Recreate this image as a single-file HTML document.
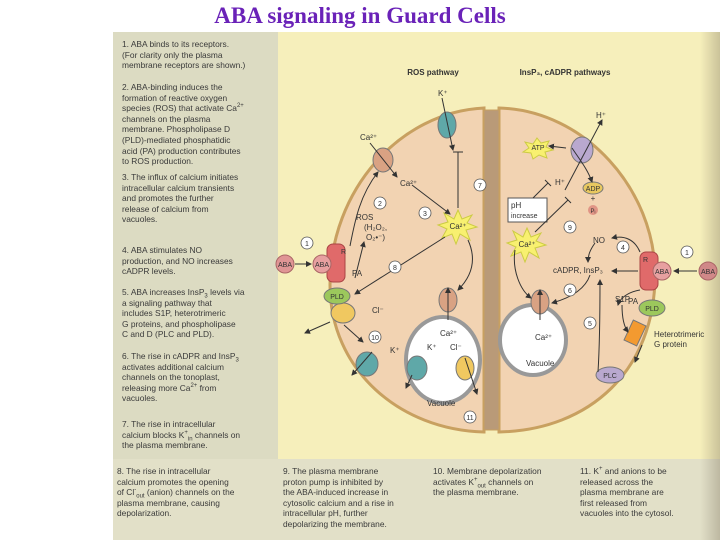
<!DOCTYPE html>
<html><head><meta charset="utf-8"><style>
body{margin:0;width:720px;height:540px;background:#fff;position:relative;overflow:hidden;font-family:"Liberation Sans",sans-serif}
#title{position:absolute;left:0;width:720px;top:3px;text-align:center;font:bold 23px "Liberation Serif",serif;color:#6a22b8}
.p{position:absolute;font-size:8.4px;line-height:10.6px;color:#3a3a3a;white-space:nowrap}
.p sup,.p sub{font-size:6px;line-height:0}
</style></head><body>
<div id="title">ABA signaling in Guard Cells</div>
<div style="position:absolute;left:113px;top:32px;width:607px;height:508px;background:#f6efbb"></div>
<div style="position:absolute;left:113px;top:32px;width:165px;height:427px;background:#dcdbc2"></div>
<div style="position:absolute;left:113px;top:459px;width:607px;height:81px;background:#e2e0c8"></div>
<div style="position:absolute;left:700px;top:32px;width:20px;height:508px;background:linear-gradient(90deg,rgba(0,0,0,0),rgba(120,110,90,.35))"></div>
<div class="p" style="left:122px;top:39px">1. ABA binds to its receptors.<br>(For clarity only the plasma<br>membrane receptors are shown.)</div>
<div class="p" style="left:122px;top:82px">2. ABA-binding induces the<br>formation of reactive oxygen<br>species (ROS) that activate Ca<sup>2+</sup><br>channels on the plasma<br>membrane. Phospholipase D<br>(PLD)-mediated phosphatidic<br>acid (PA) production contributes<br>to ROS production.</div>
<div class="p" style="left:122px;top:172px">3. The influx of calcium initiates<br>intracellular calcium transients<br>and promotes the further<br>release of calcium from<br>vacuoles.</div>
<div class="p" style="left:122px;top:245px">4. ABA stimulates NO<br>production, and NO increases<br>cADPR levels.</div>
<div class="p" style="left:122px;top:287px">5. ABA increases InsP<sub>3</sub> levels via<br>a signaling pathway that<br>includes S1P, heterotrimeric<br>G proteins, and phospholipase<br>C and D (PLC and PLD).</div>
<div class="p" style="left:122px;top:351px">6. The rise in cADPR and InsP<sub>3</sub><br>activates additional calcium<br>channels on the tonoplast,<br>releasing more Ca<sup>2+</sup> from<br>vacuoles.</div>
<div class="p" style="left:122px;top:419px">7. The rise in intracellular<br>calcium blocks K<sup>+</sup><sub>in</sub> channels on<br>the plasma membrane.</div>
<div class="p" style="left:117px;top:466px">8. The rise in intracellular<br>calcium promotes the opening<br>of Cl<sup>-</sup><sub>out</sub> (anion) channels on the<br>plasma membrane, causing<br>depolarization.</div>
<div class="p" style="left:283px;top:466px">9. The plasma membrane<br>proton pump is inhibited by<br>the ABA-induced increase in<br>cytosolic calcium and a rise in<br>intracellular pH, further<br>depolarizing the membrane.</div>
<div class="p" style="left:433px;top:466px">10. Membrane depolarization<br>activates K<sup>+</sup><sub>out</sub> channels on<br>the plasma membrane.</div>
<div class="p" style="left:580px;top:466px">11. K<sup>+</sup> and anions to be<br>released across the<br>plasma membrane are<br>first released from<br>vacuoles into the cytosol.</div>
<svg style="position:absolute;left:0;top:0" width="720" height="540" font-family="Liberation Sans,sans-serif" font-size="8" fill="#333">
<defs><marker id="a" markerWidth="6" markerHeight="6" refX="5" refY="3" orient="auto"><path d="M0,0L6,3L0,6z" fill="#333"/></marker></defs>
<text x="433" y="75" font-weight="bold" text-anchor="middle">ROS pathway</text>
<text x="565" y="75" font-weight="bold" text-anchor="middle">InsP₃, cADPR pathways</text>
<path d="M484,108 C400,112 330,190 330,285 C330,370 400,430 484,432 Z" fill="#f2d3b2" stroke="#c8a060" stroke-width="3"/>
<path d="M499,108 C585,110 655,190 655,275 C655,370 590,430 499,432 Z" fill="#f2d3b2" stroke="#c8a060" stroke-width="3"/>
<rect x="484" y="110" width="15" height="320" fill="#b99a78" stroke="#c8a060"/>
<ellipse cx="443" cy="360" rx="37" ry="43" fill="#fff" stroke="#999" stroke-width="4"/>
<ellipse cx="533" cy="340" rx="33" ry="35" fill="#fff" stroke="#999" stroke-width="4"/>
<polygon points="458,210 462,219 472,215 467,223 477,227 466,230 470,240 460,234 456,244 452,234 442,238 447,229 438,225 448,222 444,213 454,219" fill="#f8f070" stroke="#cc4"/>
<text x="458" y="229" text-anchor="middle">Ca²⁺</text>
<polygon points="527,228 531,237 541,233 536,241 546,245 535,248 539,258 529,252 525,262 521,252 511,256 516,247 507,243 517,240 513,231 523,237" fill="#f8f070" stroke="#cc4"/>
<text x="527" y="247" text-anchor="middle">Ca²⁺</text>
<polygon points="537,138 541,143 549,141 546,147 553,150 545,152 547,158 539,155 533,159 531,153 523,152 529,148 525,142 533,144" fill="#f8f070" stroke="#cc4"/>
<text x="538" y="150" text-anchor="middle" font-size="7">ATP</text>
<ellipse cx="447" cy="125" rx="9" ry="13" fill="#5fa8a8" stroke="#777"/>
<ellipse cx="383" cy="160" rx="10" ry="12" fill="#d9a283" stroke="#777"/>
<ellipse cx="582" cy="150" rx="11" ry="13" fill="#b9a8cf" stroke="#777"/>
<ellipse cx="367" cy="364" rx="11" ry="12" fill="#5fa8a8" stroke="#777"/>
<ellipse cx="343" cy="313" rx="12" ry="10" fill="#f0c860" stroke="#777"/>
<ellipse cx="337" cy="296" rx="13" ry="8" fill="#9cc85c" stroke="#777"/>
<rect x="327" y="244" width="18" height="38" rx="6" fill="#e06a6a" stroke="#a44"/>
<circle cx="322" cy="264" r="9" fill="#e7a0a0" stroke="#a66"/><text x="322" y="267" text-anchor="middle" font-size="7">ABA</text>
<circle cx="285" cy="264" r="9" fill="#e09595" stroke="#a66"/><text x="285" y="267" text-anchor="middle" font-size="7">ABA</text>
<text x="341" y="254" font-size="7">R</text>
<line x1="295" y1="264" x2="311" y2="264" stroke="#333" marker-end="url(#a)"/>
<ellipse cx="448" cy="300" rx="9" ry="12" fill="#d9a283" stroke="#777"/>
<ellipse cx="417" cy="368" rx="10" ry="12" fill="#5fa8a8" stroke="#777"/>
<ellipse cx="465" cy="368" rx="9" ry="12" fill="#f0c860" stroke="#777"/>
<ellipse cx="540" cy="302" rx="9" ry="12" fill="#d9a283" stroke="#777"/>
<rect x="640" y="252" width="18" height="38" rx="6" fill="#e06a6a" stroke="#a44"/>
<circle cx="662" cy="271" r="9" fill="#e7a0a0" stroke="#a66"/><text x="662" y="274" text-anchor="middle" font-size="7">ABA</text>
<circle cx="708" cy="271" r="9" fill="#d08888" stroke="#a66"/><text x="708" y="274" text-anchor="middle" font-size="7">ABA</text>
<text x="643" y="262" font-size="7">R</text>
<line x1="697" y1="271" x2="674" y2="271" stroke="#333" marker-end="url(#a)"/>
<ellipse cx="652" cy="308" rx="13" ry="8" fill="#9cc85c" stroke="#777"/><text x="652" y="311" text-anchor="middle" font-size="7">PLD</text>
<rect x="628" y="322" width="14" height="22" fill="#f39a30" stroke="#777" transform="rotate(25 635 333)"/>
<ellipse cx="610" cy="375" rx="14" ry="8" fill="#b9a8cf" stroke="#777"/><text x="610" y="378" text-anchor="middle" font-size="7">PLC</text>
<ellipse cx="593" cy="188" rx="10" ry="6" fill="#e8c860" stroke="#777"/><text x="593" y="191" text-anchor="middle" font-size="7">ADP</text>
<text x="593" y="201" text-anchor="middle">+</text>
<circle cx="593" cy="210" r="5" fill="#e09585"/><text x="593" y="213" text-anchor="middle" font-size="6">Pᵢ</text>
<rect x="508" y="198" width="39" height="24" fill="#fff" stroke="#555"/>
<text x="511" y="208">pH</text><text x="511" y="218" font-size="7">increase</text>
<text x="337" y="299" text-anchor="middle" font-size="7">PLD</text>
<g stroke="#333" fill="none" stroke-width="1">
<line x1="442" y1="98" x2="453" y2="150" marker-end="url(#a)"/>
<line x1="458" y1="208" x2="458" y2="152"/><line x1="453" y1="152" x2="463" y2="152"/>
<line x1="370" y1="143" x2="397" y2="177" marker-end="url(#a)"/>
<line x1="412" y1="185" x2="450" y2="214" marker-end="url(#a)"/>
<path d="M350,246 C355,220 360,195 378,172" marker-end="url(#a)"/>
<line x1="355" y1="278" x2="364" y2="242" marker-end="url(#a)"/>
<line x1="445" y1="237" x2="355" y2="294" marker-end="url(#a)"/>
<line x1="330" y1="322" x2="305" y2="333" marker-end="url(#a)"/>
<path d="M344,325 L363,342" marker-end="url(#a)"/>
<line x1="372" y1="352" x2="352" y2="375" marker-end="url(#a)"/>
<path d="M468,240 C478,262 470,278 458,290" marker-end="url(#a)"/>
<line x1="448" y1="320" x2="448" y2="288" marker-end="url(#a)"/>
<line x1="412" y1="375" x2="406" y2="388" marker-end="url(#a)"/>
<line x1="465" y1="358" x2="477" y2="394" marker-end="url(#a)"/>
<line x1="565" y1="190" x2="602" y2="120" marker-end="url(#a)"/>
<path d="M572,148 C580,160 588,170 592,182" marker-end="url(#a)"/>
<line x1="566" y1="148" x2="549" y2="146" marker-end="url(#a)"/>
<line x1="533" y1="198" x2="548" y2="183"/><line x1="545" y1="180" x2="551" y2="186"/>
<line x1="535" y1="232" x2="568" y2="200"/><line x1="565" y1="197" x2="571" y2="203"/>
<path d="M515,250 C512,270 520,290 531,298" marker-end="url(#a)"/>
<line x1="540" y1="320" x2="540" y2="290" marker-end="url(#a)"/>
<path d="M590,275 C585,290 570,298 552,303" marker-end="url(#a)"/>
<path d="M640,252 C635,240 625,235 612,238" marker-end="url(#a)"/>
<path d="M595,243 C590,250 588,255 588,262" marker-end="url(#a)"/>
<line x1="638" y1="271" x2="612" y2="271" marker-end="url(#a)"/>
<path d="M598,372 C600,340 600,310 600,280" marker-end="url(#a)"/>
<path d="M640,290 C628,292 620,298 618,305" marker-end="url(#a)"/>
<path d="M622,305 C622,320 625,328 628,332" marker-end="url(#a)"/>
<line x1="642" y1="345" x2="635" y2="362" marker-end="url(#a)"/>
</g>
<g font-size="8">
<text x="438" y="96">K⁺</text><text x="360" y="140">Ca²⁺</text><text x="400" y="186">Ca²⁺</text>
<text x="356" y="220">ROS</text><text x="364" y="230">(H₂O₂,</text><text x="366" y="240">O₂•⁻)</text>
<text x="352" y="276">PA</text><text x="372" y="313">Cl⁻</text><text x="390" y="353">K⁺</text>
<text x="440" y="336">Ca²⁺</text><text x="427" y="350">K⁺</text><text x="450" y="350">Cl⁻</text>
<text x="427" y="406">Vacuole</text>
<text x="596" y="118">H⁺</text><text x="555" y="185">H⁺</text>
<text x="593" y="243">NO</text><text x="553" y="273">cADPR, InsP₃</text>
<text x="535" y="340">Ca²⁺</text><text x="526" y="366">Vacuole</text>
<text x="615" y="302">S1P</text><text x="628" y="304">PA</text>
<text x="654" y="337">Heterotrimeric</text><text x="654" y="347">G protein</text>
</g>
<g fill="#fff" stroke="#555" stroke-width="0.8">
<circle cx="480" cy="185" r="6"/><circle cx="380" cy="203" r="6"/><circle cx="425" cy="213" r="6"/><circle cx="307" cy="243" r="6"/><circle cx="395" cy="267" r="6"/><circle cx="375" cy="337" r="6"/><circle cx="470" cy="417" r="6"/><circle cx="570" cy="227" r="6"/><circle cx="623" cy="247" r="6"/><circle cx="687" cy="252" r="6"/><circle cx="570" cy="290" r="6"/><circle cx="590" cy="323" r="6"/>
</g>
<g font-size="7" text-anchor="middle">
<text x="480" y="188">7</text><text x="380" y="206">2</text><text x="425" y="216">3</text><text x="307" y="246">1</text><text x="395" y="270">8</text><text x="375" y="340">10</text><text x="470" y="420">11</text><text x="570" y="230">9</text><text x="623" y="250">4</text><text x="687" y="255">1</text><text x="570" y="293">6</text><text x="590" y="326">5</text>
</g>
</svg>
</body></html>
